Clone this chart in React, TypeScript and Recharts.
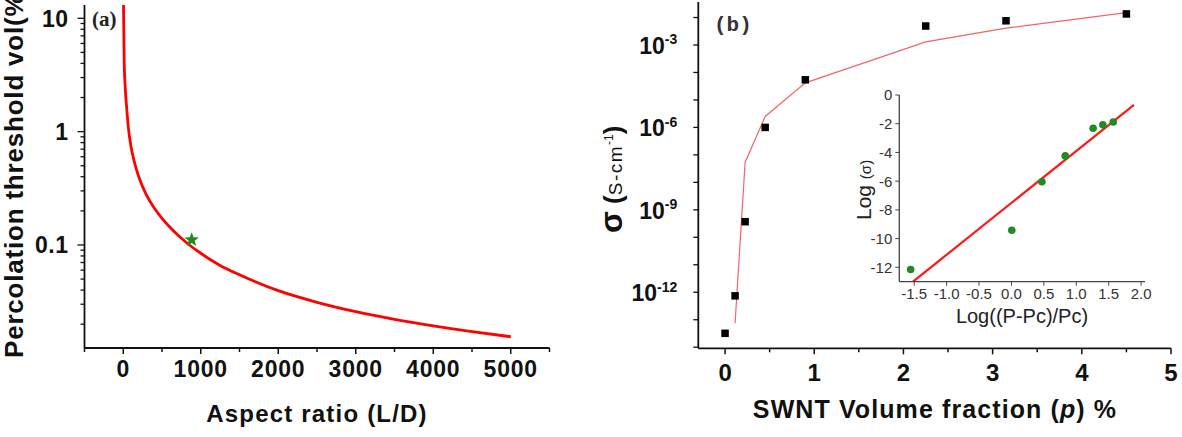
import { ComposedChart, Line, Scatter, XAxis, YAxis } from 'recharts';

const SANS = '"Liberation Sans", Arial, Helvetica, sans-serif';
const SERIF = '"Liberation Serif", "Times New Roman", serif';
const MONO = '"Liberation Mono", "Courier New", monospace';
const INK = '#111';

// (a) percolation threshold (vol %) against aspect ratio L/D
const aspectRatio = [3, 12, 25, 45, 65, 100, 150, 200, 300, 400, 500, 600, 700, 850, 1000, 1250, 1500, 2000, 2500, 3000, 3500, 4000, 4500, 5000];
const thresholdVol = [13.5, 4.2, 2.5, 1.6, 1.1, 0.74, 0.52, 0.4, 0.275, 0.212, 0.172, 0.144, 0.123, 0.1005, 0.0845, 0.066, 0.0545, 0.0395, 0.0312, 0.0258, 0.0221, 0.01935, 0.0172, 0.0155];
const swntAspect = [883];
const swntThreshold = [0.111];

const aspectTicks = [-500, 0, 500, 1000, 1500, 2000, 2500, 3000, 3500, 4000, 4500, 5000, 5500];
const aspectLabels = [0, 1000, 2000, 3000, 4000, 5000];
const thresholdTicks = [
  0.02, 0.03, 0.04, 0.05, 0.06, 0.07, 0.08, 0.09,
  0.1, 0.2, 0.3, 0.4, 0.5, 0.6, 0.7, 0.8, 0.9,
  1, 2, 3, 4, 5, 6, 7, 8, 9, 10,
];
const thresholdLabels = [0.1, 1, 10];

// (b) conductivity against SWNT volume fraction
const volFraction = [0, 0.1125, 0.225, 0.45, 0.9, 2.25, 3.15, 4.5];
const conductivity = [3.2e-14, 7.4e-13, 3.7e-10, 1.0e-6, 5.4e-5, 4.9e-3, 7.6e-3, 1.35e-2];
const fitFraction = [0.1125, 0.225, 0.45, 0.9, 2.25, 3.15, 4.5];
const fitConductivity = [7.4e-14, 5.4e-8, 2.5e-6, 4.2e-5, 1.3e-3, 4.1e-3, 1.5e-2];

const fractionTicks = [0, 0.5, 1, 1.5, 2, 2.5, 3, 3.5, 4, 4.5, 5];
const fractionLabels = [0, 1, 2, 3, 4, 5];
const sigmaTicks = [1e-14, 1e-13, 1e-12, 1e-11, 1e-10, 1e-9, 1e-8, 1e-7, 1e-6, 1e-5, 1e-4, 1e-3, 1e-2];
const sigmaLabelExps = [-3, -6, -9, -12];

// inset: log-log scaling fit
const logReduced = [-1.555, 0.005, 0.47, 0.83, 1.26, 1.41, 1.57];
const logSigma = [-12.15, -9.42, -6.04, -4.24, -2.31, -2.08, -1.875];
const fitLogReduced = [-1.52, 1.89];
const fitLogSigma = [-13.0, -0.69];
const reducedTicks = [-1.5, -1.0, -0.5, 0, 0.5, 1.0, 1.5, 2.0];
const logSigmaTicks = [-12, -10, -8, -6, -4, -2, 0];

const curveA = aspectRatio.map((ld, i) => ({ ld, vol: thresholdVol[i] }));
const starA = swntAspect.map((ld, i) => ({ ld, vol: swntThreshold[i] }));
const pointsB = volFraction.map((p, i) => ({ p, sigma: conductivity[i] }));
const fitB = fitFraction.map((p, i) => ({ p, sigma: fitConductivity[i] }));
const dotsInset = logReduced.map((r, i) => ({ r, s: logSigma[i] }));
const fitInset = fitLogReduced.map((r, i) => ({ r, s: fitLogSigma[i] }));

const ASPECT_DOMAIN = [-500, 5500];
const THRESHOLD_DOMAIN = [0.01233, 13.1];
const FRACTION_DOMAIN = [-0.3, 5];
const SIGMA_DOMAIN = [9.12e-15, 3.67e-2];
const REDUCED_DOMAIN = [-1.73, 2.06];
const LOGSIGMA_DOMAIN = [-13, 0];

const Star = ({ cx, cy }: any) => {
  const pts: string[] = [];
  for (let i = 0; i < 10; i++) {
    const r = i % 2 === 0 ? 7.5 : 3.2;
    const a = -Math.PI / 2 + (i * Math.PI) / 5;
    pts.push(`${cx + r * Math.cos(a)},${cy + r * Math.sin(a)}`);
  }
  return <polygon points={pts.join(' ')} fill="#1f8a1f" />;
};

const Square = ({ cx, cy }: any) => (
  <rect x={cx - 3.75} y={cy - 3.75} width={7.5} height={7.5} fill="#000" />
);

const GreenDot = ({ cx, cy }: any) => <circle cx={cx} cy={cy} r={3.8} fill="#1e8b24" />;

// tick renderers: tickSize/tickMargin are 0, so x/y sit on the axis line
const AspectTick = ({ x, y, payload }: any) => {
  const v = payload.value;
  const major = aspectLabels.includes(v);
  return (
    <g>
      <line x1={x} x2={x} y1={y} y2={y + (major ? 6 : 4)} stroke={INK} strokeWidth={1.5} />
      {major && (
        <text x={x} y={y + 29} textAnchor="middle" fontFamily={SANS} fontWeight="bold" fontSize={23} letterSpacing={0.8} fill={INK}>
          {v}
        </text>
      )}
    </g>
  );
};

const ThresholdTick = ({ x, y, payload }: any) => {
  const v = payload.value;
  const major = thresholdLabels.includes(v);
  return (
    <g>
      <line x1={x - (major ? 7 : 4)} x2={x} y1={y} y2={y} stroke={INK} strokeWidth={1.3} />
      {major && (
        <text x={x - 16} y={y} dy="0.36em" textAnchor="end" fontFamily={SANS} fontWeight="bold" fontSize={23} letterSpacing={0.5} fill={INK}>
          {String(v)}
        </text>
      )}
    </g>
  );
};

const FractionTick = ({ x, y, payload }: any) => {
  const v = payload.value;
  const major = fractionLabels.includes(v);
  return (
    <g>
      <line x1={x} x2={x} y1={y} y2={y + (major ? 6 : 4)} stroke={INK} strokeWidth={1.5} />
      {major && (
        <text x={x} y={y + 32.5} textAnchor="middle" fontFamily={SANS} fontWeight="bold" fontSize={24} fill={INK}>
          {v}
        </text>
      )}
    </g>
  );
};

const SigmaTick = ({ x, y, payload }: any) => {
  const exp = Math.round(Math.log10(payload.value));
  const labelled = sigmaLabelExps.includes(exp);
  return (
    <g>
      <line x1={x - 5} x2={x} y1={y} y2={y} stroke={INK} strokeWidth={1.3} />
      {labelled && (
        <text x={x - 21} y={y + 9} textAnchor="end" fontFamily={SANS} fontWeight="bold" fill={INK}>
          <tspan fontSize={23}>10</tspan>
          <tspan fontSize={14} dy={-9.5}>{exp}</tspan>
        </text>
      )}
    </g>
  );
};

const ReducedTick = ({ x, y, payload }: any) => (
  <g>
    <line x1={x} x2={x} y1={y} y2={y + 4} stroke="#444" strokeWidth={1} />
    <text x={x} y={y + 17.5} textAnchor="middle" fontFamily={SANS} fontSize={15} fill="#333">
      {Number(payload.value).toFixed(1)}
    </text>
  </g>
);

const LogSigmaTick = ({ x, y, payload }: any) => (
  <g>
    <line x1={x - 4} x2={x} y1={y} y2={y} stroke="#444" strokeWidth={1} />
    <text x={x - 7} y={y} dy="0.36em" textAnchor="end" fontFamily={SANS} fontSize={15} fill="#333">
      {String(payload.value)}
    </text>
  </g>
);

const frameLine = { stroke: '#b4b4b4', strokeWidth: 2 };
const mainAxisLine = { stroke: INK, strokeWidth: 1.8 };

export default function App() {
  return (
    <div style={{ position: 'relative', width: 1182, height: 437, background: '#fff', overflow: 'hidden' }}>
      <style>{'body{margin:0}'}</style>

      {/* (a) */}
      <div style={{ position: 'absolute', left: 0, top: 0 }}>
        <ComposedChart width={560} height={437} data={curveA} margin={{ top: 5, right: 10.5, bottom: 29, left: 0 }}>
          <XAxis
            dataKey="ld" type="number" domain={ASPECT_DOMAIN} allowDataOverflow
            ticks={aspectTicks} interval={0} tickSize={0} tickMargin={0} tickLine={false}
            axisLine={mainAxisLine} tick={AspectTick} height={60}
          />
          <XAxis
            xAxisId="top" orientation="top" dataKey="ld" type="number" domain={ASPECT_DOMAIN}
            allowDataOverflow height={0} tick={false} tickLine={false} axisLine={frameLine}
          />
          <YAxis
            dataKey="vol" type="number" scale="log" domain={THRESHOLD_DOMAIN} allowDataOverflow
            ticks={thresholdTicks} interval={0} tickSize={0} tickMargin={0} tickLine={false}
            axisLine={mainAxisLine} tick={ThresholdTick} width={84.5}
          />
          <YAxis
            yAxisId="right" orientation="right" type="number" scale="log" domain={THRESHOLD_DOMAIN}
            allowDataOverflow width={0} tick={false} tickLine={false} axisLine={frameLine}
          />
          <Line dataKey="vol" type="monotone" stroke="#ff0000" strokeWidth={2.8} dot={false} isAnimationActive={false} />
          <Scatter data={starA} dataKey="vol" shape={Star} isAnimationActive={false} />
        </ComposedChart>
      </div>

      {/* (b) */}
      <div style={{ position: 'absolute', left: 600, top: 0 }}>
        <ComposedChart width={582} height={437} data={fitB} margin={{ top: 2, right: 11, bottom: 28.7, left: 0 }}>
          <XAxis
            dataKey="p" type="number" domain={FRACTION_DOMAIN} allowDataOverflow
            ticks={fractionTicks} interval={0} tickSize={0} tickMargin={0} tickLine={false}
            axisLine={mainAxisLine} tick={FractionTick} height={60}
          />
          <XAxis
            xAxisId="top" orientation="top" dataKey="p" type="number" domain={FRACTION_DOMAIN}
            allowDataOverflow height={0} tick={false} tickLine={false} axisLine={frameLine}
          />
          <YAxis
            dataKey="sigma" type="number" scale="log" domain={SIGMA_DOMAIN} allowDataOverflow
            ticks={sigmaTicks} interval={0} tickSize={0} tickMargin={0} tickLine={false}
            axisLine={mainAxisLine} tick={SigmaTick} width={98.3}
          />
          <YAxis
            yAxisId="right" orientation="right" type="number" scale="log" domain={SIGMA_DOMAIN}
            allowDataOverflow width={0} tick={false} tickLine={false} axisLine={frameLine}
          />
          <Line dataKey="sigma" type="linear" stroke="#f04a4a" strokeOpacity={0.85} strokeWidth={1.2} dot={false} isAnimationActive={false} />
          <Scatter data={pointsB} dataKey="sigma" shape={Square} isAnimationActive={false} />
        </ComposedChart>
      </div>

      {/* inset of (b) */}
      <div style={{ position: 'absolute', left: 850, top: 80 }}>
        <ComposedChart width={312} height={250} data={fitInset} margin={{ top: 15, right: 17, bottom: 18.3, left: 0 }}>
          <XAxis
            dataKey="r" type="number" domain={REDUCED_DOMAIN} allowDataOverflow
            ticks={reducedTicks} interval={0} tickSize={0} tickMargin={0} tickLine={false}
            axisLine={{ stroke: '#444', strokeWidth: 1.3 }} tick={ReducedTick} height={30}
          />
          <XAxis
            xAxisId="top" orientation="top" dataKey="r" type="number" domain={REDUCED_DOMAIN}
            allowDataOverflow height={0} tick={false} tickLine={false} axisLine={{ stroke: '#999', strokeWidth: 1 }}
          />
          <YAxis
            dataKey="s" type="number" domain={LOGSIGMA_DOMAIN} allowDataOverflow
            ticks={logSigmaTicks} interval={0} tickSize={0} tickMargin={0} tickLine={false}
            axisLine={{ stroke: '#444', strokeWidth: 1.3 }} tick={LogSigmaTick} width={49.3}
          />
          <YAxis
            yAxisId="right" orientation="right" type="number" domain={LOGSIGMA_DOMAIN}
            allowDataOverflow width={0} tick={false} tickLine={false} axisLine={{ stroke: '#999', strokeWidth: 1 }}
          />
          <Line dataKey="s" type="linear" stroke="#ff1a1a" strokeWidth={2.2} dot={false} isAnimationActive={false} />
          <Scatter data={dotsInset} dataKey="s" shape={GreenDot} isAnimationActive={false} />
        </ComposedChart>
      </div>

      {/* titles and panel tags */}
      <svg width={1182} height={437} style={{ position: 'absolute', left: 0, top: 0, pointerEvents: 'none' }}>
        <text x={92} y={26} fontFamily={SERIF} fontWeight="bold" fontSize={21} fill="#222">(a)</text>
        <text transform="rotate(-90)" x={-358} y={23} fontFamily={SANS} fontWeight="bold" fontSize={26} letterSpacing={0.8} fill={INK}>
          Percolation threshold vol(%)
        </text>
        <text x={317} y={421.7} textAnchor="middle" fontFamily={SANS} fontWeight="bold" fontSize={24} letterSpacing={1.2} fill={INK}>
          Aspect ratio (L/D)
        </text>

        <text x={714} y={31} fontFamily={MONO} fontWeight="bold" fontSize={21} fill="#333">(b)</text>
        <text transform="rotate(-90)" x={-233} y={622} fontFamily={SANS} fill={INK}>
          <tspan fontSize={32} fontWeight="bold">σ</tspan>
          <tspan fontSize={26} fontWeight="bold"> (</tspan>
          <tspan fontSize={19} letterSpacing={1.5}>S-cm</tspan>
          <tspan fontSize={12} dy={-9}>-1</tspan>
          <tspan fontSize={26} fontWeight="bold" dy={9}>)</tspan>
        </text>
        <text x={935} y={418.3} textAnchor="middle" fontFamily={SANS} fontWeight="bold" fontSize={25} letterSpacing={1.1} fill={INK}>
          SWNT Volume fraction (<tspan fontStyle="italic">p</tspan>) %
        </text>

        <text transform="rotate(-90)" x={-220} y={871} fontFamily={SANS} fill="#222">
          <tspan fontSize={21}>Log </tspan>
          <tspan fontSize={15}>(σ)</tspan>
        </text>
        <text x={1022} y={323} textAnchor="middle" fontFamily={SANS} fontSize={20} fill="#222">
          Log((P-Pc)/Pc)
        </text>
      </svg>
    </div>
  );
}
